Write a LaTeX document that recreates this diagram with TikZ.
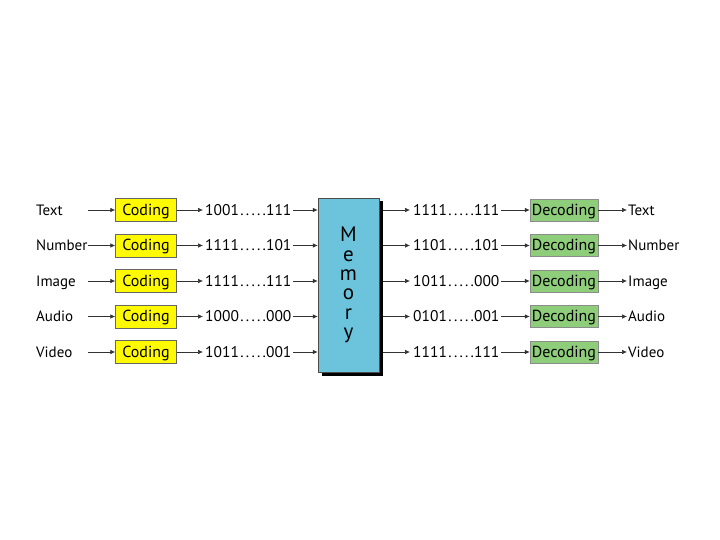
\documentclass[tikz,border=0pt]{standalone}
\usepackage{fontspec}
\setmainfont{PT Sans}
\usetikzlibrary{arrows.meta,calc,shadows}
\definecolor{codeY}{RGB}{255,250,0}
\definecolor{decG}{RGB}{142,205,122}
\definecolor{memB}{RGB}{108,196,220}
\definecolor{lineC}{RGB}{50,50,50}
\newcommand{\dotrun}{\kern1.5pt.\kern2.2pt.\kern2.2pt.\kern2.2pt.\kern2.2pt.\kern0.2pt}
\tikzset{
  lbl/.style={inner sep=0pt, text height=10pt, text depth=0pt, anchor=west, font=\fontsize{15}{18}\selectfont},
  inlbl/.style={lbl, text width=52pt, align=left},
  bin/.style={lbl, text width=88pt, align=left, font=\fontsize{15.5}{18}\selectfont},
  codebox/.style={draw=black!60, line width=0.5pt, fill=codeY, minimum width=61pt, minimum height=23pt, inner sep=0pt, text height=12pt, text depth=2pt, font=\fontsize{16}{18}\selectfont},
  decbox/.style={draw=black!45, line width=0.5pt, fill=decG, minimum width=68pt, minimum height=22pt, inner sep=0pt, text height=12pt, text depth=2pt, font=\fontsize{16}{18}\selectfont},
  arr/.style={draw=lineC, line width=0.6pt, -{Latex[length=5pt,width=4.5pt]}},
}
\begin{document}
\begin{tikzpicture}[x=1pt,y=-1pt]
\useasboundingbox (0,0) rectangle (720,540);
% memory
\node[draw=black!70, line width=0.5pt, fill=memB, minimum width=61pt, minimum height=174pt, inner sep=0pt, align=center,
  font=\fontsize{21}{19.4}\selectfont,
  drop shadow={shadow xshift=3.5pt, shadow yshift=-3.5pt, fill=black, opacity=1}]
  (mem) at (348.5,285) {M\\e\\m\\o\\r\\y};
\foreach \i/\lab/\bl/\br/\olab [count=\k] in {
  0/Text/1001\dotrun 111/1111\dotrun 111/Text,
  1/Number/1111\dotrun 101/1101\dotrun 101/Number,
  2/Image/1111\dotrun 111/1011\dotrun 000/Image,
  3/Audio/1000\dotrun 000/0101\dotrun 001/Audio,
  4/Video/1011\dotrun 001/1111\dotrun 111/Video}{
  \pgfmathsetmacro{\c}{210+35.5*\i}
  \node[inlbl] (in\k) at (36,\c) {\lab};
  \node[codebox] (cod\k) at (146,\c) {Coding};
  \node[bin] (lb\k) at (205,\c) {\bl};
  \node[bin] (rb\k) at (413,\c) {\br};
  \node[decbox] (dec\k) at (564,\c) {Decoding};
  \node[lbl] (out\k) at (628,\c) {\olab};
  \draw[arr] (in\k.east) -- (cod\k.west);
  \draw[arr, shorten >=2pt] (cod\k.east) -- (lb\k.west);
  \draw[arr] (lb\k.east) -- (mem.west |- lb\k.east);
  \draw[arr, shorten >=3pt] ($(mem.east |- rb\k.west)+(3.5,0)$) -- (rb\k.west);
  \draw[arr] (rb\k.east) -- (dec\k.west);
  \draw[arr, shorten >=1pt] (dec\k.east) -- (out\k.west);
}
\end{tikzpicture}
\end{document}
